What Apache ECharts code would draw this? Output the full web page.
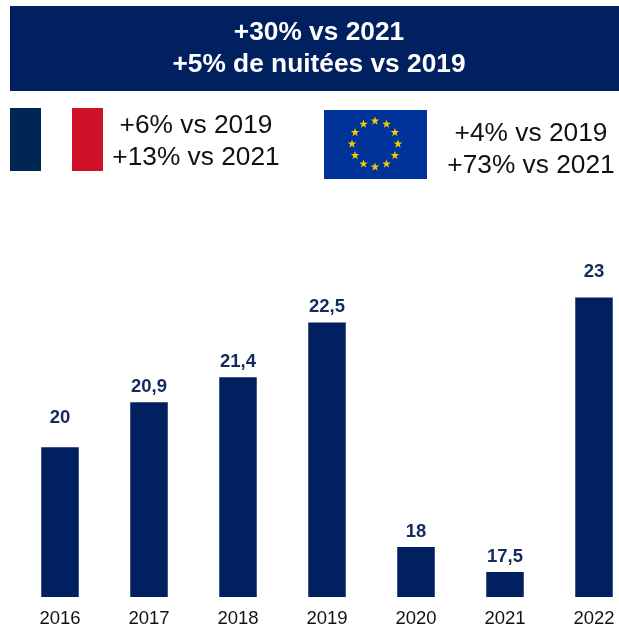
<!DOCTYPE html>
<html>
<head>
<meta charset="utf-8">
<style>
  html, body { margin: 0; padding: 0; background: #fff; }
  #chart { width: 619px; height: 625px; }
</style>
<script src="https://cdn.jsdelivr.net/npm/echarts@6/dist/echarts.min.js"></script>
</head>
<body>
<div id="chart"></div>
<script>
const years = ['2016', '2017', '2018', '2019', '2020', '2021', '2022']
const nights = [20, 20.9, 21.4, 22.5, 18, 17.5, 23]
const bannerLines = ['+30% vs 2021', '+5% de nuitées vs 2019']
const franceLines = ['+6% vs 2019', '+13% vs 2021']
const europeLines = ['+4% vs 2019', '+73% vs 2021']

const navy = '#002060'
const font = '"Liberation Sans", Arial, sans-serif'

// stars of the EU flag, drawn around the centre of the blue rectangle
function euStars(cx, cy, r, size) {
  const stars = []
  for (let i = 0; i < 12; i++) {
    const a = i * Math.PI / 6
    const sx = cx + r * Math.sin(a)
    const sy = cy - r * Math.cos(a)
    const points = []
    for (let k = 0; k < 10; k++) {
      const rad = k % 2 === 0 ? size : size * 0.4
      const b = k * Math.PI / 5
      points.push([sx + rad * Math.sin(b), sy - rad * Math.cos(b)])
    }
    stars.push({ type: 'polygon', shape: { points }, style: { fill: '#f2cc00' } })
  }
  return stars
}

function textBlock(x, y, text, size, color, weight) {
  return {
    type: 'text', x, y,
    style: { text, fill: color, font: `${weight} ${size}px ${font}`, textAlign: 'center', textVerticalAlign: 'middle' }
  }
}

// the labels of 2016 and 2022 sit higher above their bars than the others
function labelGap(year) {
  if (year === '2016') return 20
  if (year === '2022') return 16
  return 6
}

const chart = echarts.init(document.getElementById('chart'), null, { renderer: 'canvas' })
chart.setOption({
  animation: false,
  // the last band runs past the right edge of the page, as in the original slide
  grid: { left: 15.5, width: 623, top: 247.5, height: 349.5, outerBoundsMode: 'none' },
  xAxis: {
    type: 'category',
    data: years,
    axisLine: { show: false },
    axisTick: { show: false },
    axisLabel: { color: '#111', fontFamily: font, fontSize: 18.5, margin: 12 }
  },
  yAxis: { type: 'value', min: 17, max: 24, show: false },
  series: [{
    type: 'bar',
    data: nights.map((value, i) => ({ value, label: { distance: labelGap(years[i]) } })),
    barWidth: 37.5,
    itemStyle: { color: navy },
    label: {
      show: true,
      position: 'top',
      color: '#14295f',
      fontFamily: font,
      fontSize: 18.5,
      fontWeight: 'bold',
      formatter: p => String(p.value).replace('.', ',')
    }
  }],
  graphic: [
    { type: 'rect', shape: { x: 10, y: 6, width: 609, height: 85 }, style: { fill: navy } },
    textBlock(319, 33, bannerLines[0], 26.3, '#fff', 'bold'),
    textBlock(319, 65, bannerLines[1], 26.3, '#fff', 'bold'),
    { type: 'rect', shape: { x: 10, y: 108, width: 31, height: 63 }, style: { fill: '#002654' } },
    { type: 'rect', shape: { x: 72, y: 108, width: 31, height: 63 }, style: { fill: '#ce1126' } },
    textBlock(196, 126, franceLines[0], 26.3, '#111', 'normal'),
    textBlock(196, 158, franceLines[1], 26.3, '#111', 'normal'),
    { type: 'rect', shape: { x: 324, y: 110, width: 103, height: 69 }, style: { fill: '#003399' } },
    ...euStars(375, 144, 23, 4.5),
    textBlock(531, 134, europeLines[0], 26.3, '#111', 'normal'),
    textBlock(531, 166, europeLines[1], 26.3, '#111', 'normal')
  ]
})
</script>
</body>
</html>
